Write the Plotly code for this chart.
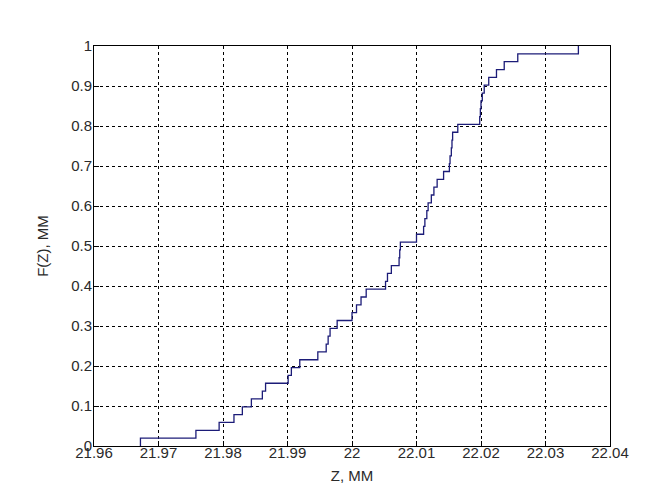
import numpy as np
import plotly.graph_objects as go

# Sample values (sorted), read from the empirical CDF steps
z_values = [
    21.9672, 21.9758, 21.9794, 21.9817, 21.9830, 21.9844, 21.9861, 21.9866,
    21.9901, 21.9906, 21.9919, 21.9947, 21.9960, 21.9963, 21.9966, 21.9977,
    22.0000, 22.0007, 22.0014, 22.0022, 22.0052, 22.0055, 22.0061, 22.0073,
    22.0074, 22.0075, 22.0100, 22.0111, 22.0113, 22.0116, 22.0118, 22.0123,
    22.0127, 22.0132, 22.0142, 22.0151, 22.0152, 22.0154, 22.0155, 22.0156,
    22.0164, 22.0198, 22.0199, 22.0200, 22.0202, 22.0205, 22.0212, 22.0224,
    22.0236, 22.0257, 22.0351,
]

x_tickvals = [21.96, 21.97, 21.98, 21.99, 22.00, 22.01, 22.02, 22.03, 22.04]
x_ticktext = ["21.96", "21.97", "21.98", "21.99", "22", "22.01", "22.02", "22.03", "22.04"]
y_tickvals = [0, 0.1, 0.2, 0.3, 0.4, 0.5, 0.6, 0.7, 0.8, 0.9, 1.0]
y_ticktext = ["0", "0.1", "0.2", "0.3", "0.4", "0.5", "0.6", "0.7", "0.8", "0.9", "1"]

x_label = "Z, MM"
y_label = "F(Z), MM"

n = len(z_values)
F = np.arange(1, n + 1) / n
xs = [z_values[0]] + list(z_values)
ys = [0.0] + list(F)

font_family = "Liberation Sans, Arial, sans-serif"
text_color = "#2a2a2a"

fig = go.Figure()
fig.add_trace(go.Scatter(
    x=xs, y=ys, mode="lines", line_shape="hv",
    line=dict(color="#1c1c78", width=1.3),
    showlegend=False, hoverinfo="skip",
))

axis_common = dict(
    showline=True, linecolor="black", linewidth=1, mirror=True,
    ticks="inside", ticklen=5, tickcolor="black", tickwidth=1,
    showgrid=True, gridcolor="black", gridwidth=1, griddash="3px,3px",
    zeroline=False,
    tickfont=dict(family=font_family, size=15, color=text_color),
)

fig.update_xaxes(
    range=[21.96, 22.04], tickvals=x_tickvals, ticktext=x_ticktext,
    ticklabelstandoff=-7,
    title=dict(text=x_label, font=dict(family=font_family, size=15, color=text_color), standoff=10),
    **axis_common,
)
fig.update_yaxes(
    range=[0, 1], tickvals=y_tickvals, ticktext=y_ticktext,
    ticklabelstandoff=-2,
    title=dict(text=y_label, font=dict(family=font_family, size=15, color=text_color), standoff=18),
    **axis_common,
)

fig.update_layout(
    width=666, height=493,
    margin=dict(l=86, r=64, t=38, b=55, autoexpand=False),
    paper_bgcolor="white", plot_bgcolor="white",
)

fig.write_html("out.html")
